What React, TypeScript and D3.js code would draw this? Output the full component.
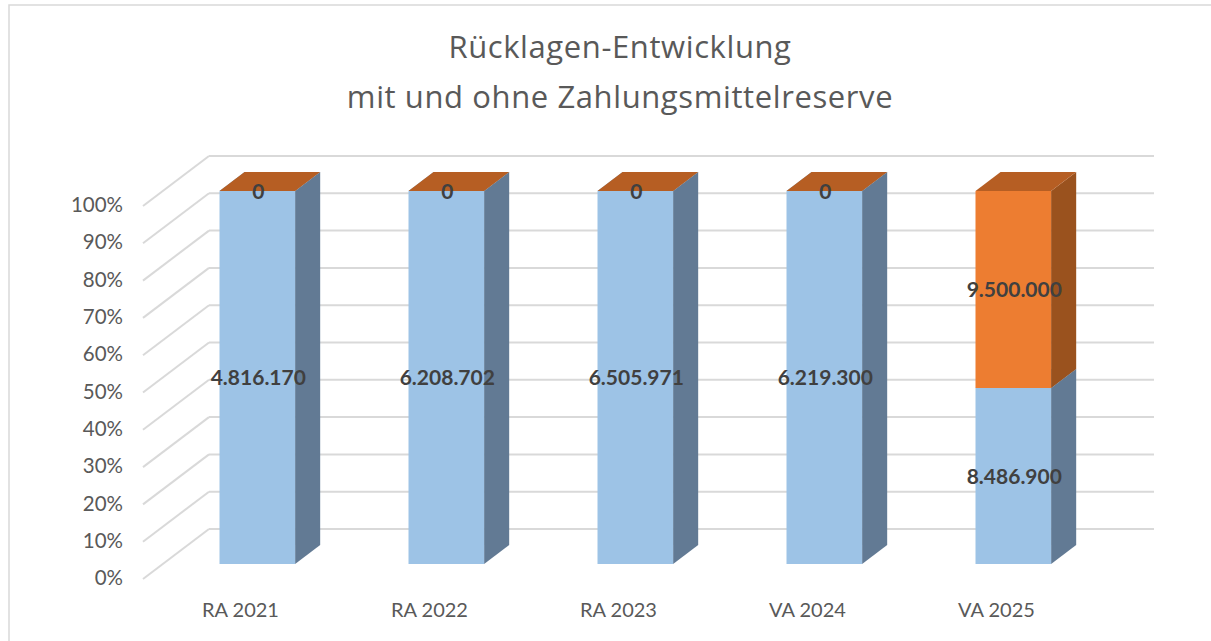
import { useMemo } from "react";
import * as d3 from "d3";

const WIDTH = 1211;
const HEIGHT = 641;

const categories = ["RA 2021", "RA 2022", "RA 2023", "VA 2024", "VA 2025"];
const seriesNames = ["ohne Zahlungsmittelreserve", "Zahlungsmittelreserve"];
const ruecklagen = [4816170, 6208702, 6505971, 6219300, 8486900];
const reserve = [0, 0, 0, 0, 9500000];
const yTicks = [0, 0.1, 0.2, 0.3, 0.4, 0.5, 0.6, 0.7, 0.8, 0.9, 1];
const titleLines = ["Rücklagen-Entwicklung", "mit und ohne Zahlungsmittelreserve"];

// front plane of the 3d box + depth vector
const FRONT = { left: 143, right: 1088, bottom: 579, top: 206 };
const DEPTH = { dx: 66, dy: -50 };
const BAR_Z = [0.3, 0.68];

const COLORS = [
    { front: "#9DC3E6", side: "#627A94", top: "#7E9CB8" },
    { front: "#ED7D31", side: "#9A521E", top: "#B65E23" },
];

const deLocale = d3.formatLocale({
    decimal: ",",
    thousands: ".",
    grouping: [3],
    currency: ["", " €"],
});
const fmt = deLocale.format(",.0f");

type Row = { cat: string; s0: number; s1: number };

export default function App() {
    const rows: Row[] = categories.map((c, i) => ({ cat: c, s0: ruecklagen[i], s1: reserve[i] }));

    const stacked = useMemo(
        () =>
            d3
                .stack<Row>()
                .keys(["s0", "s1"])
                .offset(d3.stackOffsetExpand)(rows),
        []
    );

    const xScale = d3
        .scaleBand()
        .domain(categories)
        .range([FRONT.left, FRONT.right])
        .paddingInner(0)
        .paddingOuter(0);
    const yScale = d3.scaleLinear().domain([0, 1]).range([FRONT.bottom, FRONT.top]);

    const bw = xScale.bandwidth();
    const barW = bw / 2.5;

    // projection of (x on front plane, value, depth) to screen
    const P = (x: number, v: number, z: number): [number, number] => [
        x + z * DEPTH.dx,
        yScale(v) + z * DEPTH.dy,
    ];
    const poly = (pts: [number, number][]) => pts.map((p) => p.join(",")).join(" ");

    const backLeft = FRONT.left + DEPTH.dx;
    const backRight = FRONT.right + DEPTH.dx;

    return (
        <svg
            width={WIDTH}
            height={HEIGHT}
            style={{ position: "absolute", left: 0, top: 0, background: "#fff" }}
        >
            <rect x={9} y={5} width={1300} height={700} fill="#fff" stroke="#D9D9D9" strokeWidth={1.5} />

            {titleLines.map((t, i) => (
                <text
                    key={t}
                    x={620}
                    y={58 + i * 50}
                    textAnchor="middle"
                    fontFamily="'Open Sans', sans-serif"
                    fontSize={31}
                    letterSpacing={0.6}
                    fill="#595959"
                >
                    {t}
                </text>
            ))}

            {/* gridlines: diagonal on the side wall, horizontal on the back wall */}
            <g stroke="#D9D9D9" strokeWidth={2} fill="none">
                {yTicks.map((t) => {
                    const [fx, fy] = P(FRONT.left, t, 0);
                    const [bx, by] = P(FRONT.left, t, 1);
                    return (
                        <g key={t}>
                            <line x1={fx} y1={fy} x2={bx} y2={by} />
                            <line x1={backLeft} y1={by} x2={backRight} y2={by} />
                        </g>
                    );
                })}
            </g>

            {yTicks.map((t) => (
                <text
                    key={t}
                    x={123}
                    y={yScale(t)}
                    dy="0.3em"
                    textAnchor="end"
                    fontFamily="Lato, sans-serif"
                    fontSize={20.5}
                    fill="#595959"
                >
                    {d3.format(".0%")(t)}
                </text>
            ))}

            {categories.map((c) => (
                <text
                    key={c}
                    x={(xScale(c) ?? 0) + bw / 2 + 3}
                    y={617}
                    textAnchor="middle"
                    fontFamily="Lato, sans-serif"
                    fontSize={20}
                    fill="#595959"
                >
                    {c}
                </text>
            ))}

            {/* bars */}
            {categories.map((c, ci) => {
                const x0 = (xScale(c) ?? 0) + (bw - barW) / 2;
                const x1 = x0 + barW;
                const [zf, zb] = BAR_Z;
                return (
                    <g key={c}>
                        {stacked.map((layer, si) => {
                            const [v0, v1] = layer[ci];
                            const col = COLORS[si];
                            const front = [P(x0, v1, zf), P(x1, v1, zf), P(x1, v0, zf), P(x0, v0, zf)];
                            const side = [P(x1, v1, zf), P(x1, v1, zb), P(x1, v0, zb), P(x1, v0, zf)];
                            const top = [P(x0, v1, zf), P(x0, v1, zb), P(x1, v1, zb), P(x1, v1, zf)];
                            return (
                                <g key={seriesNames[si]}>
                                    <polygon points={poly(side)} fill={col.side} />
                                    <polygon points={poly(front)} fill={col.front} />
                                    <polygon points={poly(top)} fill={col.top} />
                                </g>
                            );
                        })}
                    </g>
                );
            })}

            {/* data labels */}
            {categories.map((c, ci) => {
                const cx = (xScale(c) ?? 0) + bw / 2 + BAR_Z[0] * DEPTH.dx + 1;
                return stacked.map((layer, si) => {
                    const [v0, v1] = layer[ci];
                    const cy = yScale((v0 + v1) / 2) + BAR_Z[0] * DEPTH.dy;
                    const raw = si === 0 ? ruecklagen[ci] : reserve[ci];
                    return (
                        <text
                            key={c + si}
                            x={cx}
                            y={cy}
                            dy="0.36em"
                            textAnchor="middle"
                            fontFamily="Lato, sans-serif"
                            fontWeight="bold"
                            fontSize={21}
                            fill="#404040"
                        >
                            {fmt(raw)}
                        </text>
                    );
                });
            })}
        </svg>
    );
}
